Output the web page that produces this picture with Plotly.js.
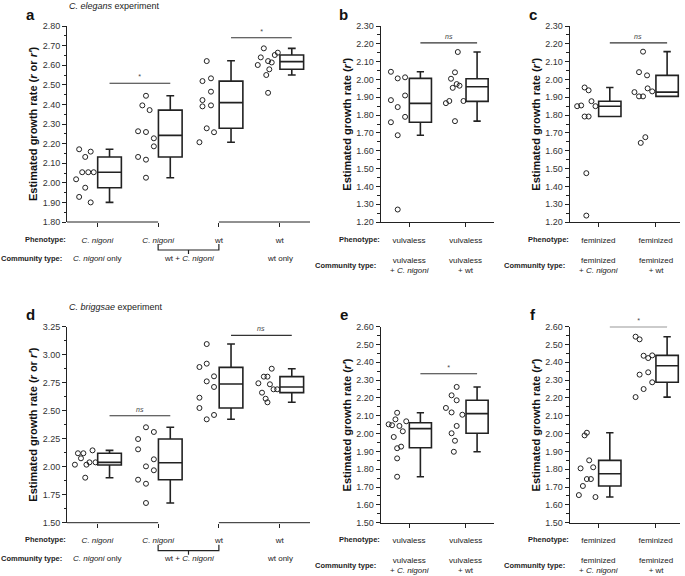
<!DOCTYPE html>
<html>
<head>
<meta charset="utf-8">
<script src="https://cdn.plot.ly/plotly-3.0.1.min.js"></script>
<style>
  html, body { margin: 0; padding: 0; background: #fff; }
  #plot { width: 685px; height: 576px; }
</style>
</head>
<body>
<div id="plot"></div>
<script>
// ---- data ----

// a: C. elegans experiment
const aPheno = ["<i>C. nigoni</i>", "<i>C. nigoni</i>", "wt", "wt"];
const aVals = [
  [2.171, 2.132, 2.159, 2.054, 2.054, 2.054, 2.018, 1.975, 1.928, 1.900],
  [2.444, 2.395, 2.371, 2.263, 2.259, 2.227, 2.186, 2.132, 2.118, 2.026],
  [2.621, 2.519, 2.533, 2.465, 2.422, 2.390, 2.395, 2.278, 2.258, 2.207],
  [2.686, 2.640, 2.652, 2.664, 2.601, 2.621, 2.614, 2.579, 2.550, 2.459]
];
const aOffs = [
  [-0.30, -0.20, -0.11, -0.25, -0.15, -0.06, -0.35, -0.20, -0.30, -0.11],
  [-0.20, -0.26, -0.14, -0.33, -0.20, -0.07, -0.07, -0.33, -0.20, -0.20],
  [-0.20, -0.27, -0.13, -0.13, -0.27, -0.27, -0.13, -0.20, -0.08, -0.32],
  [-0.26, -0.31, -0.08, -0.03, -0.36, -0.19, -0.13, -0.17, -0.22, -0.19]
];
const aQ1 = [1.975, 2.132, 2.278, 2.579];
const aMed = [2.054, 2.242, 2.409, 2.618];
const aQ3 = [2.132, 2.371, 2.519, 2.652];
const aLo = [1.900, 2.026, 2.207, 2.550];
const aHi = [2.171, 2.444, 2.623, 2.686];

// b: vulvaless
const bPheno = ["vulvaless", "vulvaless"];
const bComm = ["vulvaless<br>+ <i>C. nigoni</i>", "vulvaless<br>+ wt"];
const bVals = [
  [2.043, 2.006, 2.012, 1.910, 1.884, 1.845, 1.790, 1.760, 1.687, 1.270],
  [2.154, 2.040, 2.004, 1.974, 1.965, 1.953, 1.879, 1.867, 1.879, 1.766]
];
const bOffs = [
  [-0.32, -0.20, -0.07, -0.07, -0.32, -0.20, -0.07, -0.32, -0.20, -0.20],
  [-0.14, -0.19, -0.26, -0.16, -0.11, -0.23, -0.29, -0.35, -0.04, -0.19]
];
const bQ1 = [1.760, 1.877];
const bMed = [1.866, 1.959];
const bQ3 = [2.006, 2.004];
const bLo = [1.687, 1.766];
const bHi = [2.043, 2.154];

// c: feminized
const cPheno = ["feminized", "feminized"];
const cComm = ["feminized<br>+ <i>C. nigoni</i>", "feminized<br>+ wt"];
const cVals = [
  [1.850, 1.854, 1.955, 1.939, 1.878, 1.850, 1.792, 1.792, 1.474, 1.236],
  [2.156, 2.041, 2.023, 1.950, 1.933, 1.929, 1.905, 1.905, 1.676, 1.644]
];
const cOffs = [
  [-0.37, -0.30, -0.24, -0.17, -0.12, -0.05, -0.24, -0.17, -0.21, -0.21],
  [-0.22, -0.29, -0.15, -0.14, -0.06, -0.37, -0.29, -0.22, -0.18, -0.26]
];
const cQ1 = [1.792, 1.905];
const cMed = [1.850, 1.929];
const cQ3 = [1.878, 2.023];
const cLo = [1.792, 1.905];
const cHi = [1.955, 2.156];

// d: C. briggsae experiment
const dVals = [
  [2.018, 2.120, 2.075, 2.120, 2.018, 2.039, 2.146, 2.039, 1.902],
  [2.352, 2.310, 2.247, 2.155, 2.066, 2.003, 1.968, 1.884, 1.848, 1.676],
  [3.095, 2.920, 2.890, 2.807, 2.762, 2.712, 2.616, 2.524, 2.462, 2.423],
  [2.875, 2.804, 2.804, 2.745, 2.736, 2.661, 2.691, 2.691, 2.607, 2.575]
];
const dOffs = [
  [-0.37, -0.32, -0.27, -0.23, -0.18, -0.13, -0.08, -0.03, -0.20],
  [-0.20, -0.07, -0.33, -0.33, -0.07, -0.20, -0.07, -0.33, -0.20, -0.20],
  [-0.20, -0.20, -0.32, -0.08, -0.20, -0.08, -0.32, -0.32, -0.08, -0.20],
  [-0.13, -0.26, -0.20, -0.35, -0.16, -0.29, -0.10, -0.04, -0.23, -0.20]
];
const dQ1 = [2.015, 1.884, 2.524, 2.661];
const dMed = [2.039, 2.035, 2.738, 2.712];
const dQ3 = [2.120, 2.247, 2.887, 2.804];
const dLo = [1.902, 1.676, 2.423, 2.575];
const dHi = [2.146, 2.352, 3.095, 2.875];

// e: vulvaless
const eVals = [
  [2.117, 2.080, 2.052, 2.047, 2.043, 2.069, 2.013, 1.981, 1.927, 1.918, 1.861, 1.758],
  [2.262, 2.215, 2.187, 2.144, 2.119, 2.106, 2.043, 2.002, 1.960, 1.898]
];
const eOffs = [
  [-0.21, -0.24, -0.36, -0.30, -0.17, -0.05, -0.11, -0.27, -0.14, -0.21, -0.21, -0.21],
  [-0.16, -0.25, -0.16, -0.35, -0.25, -0.06, -0.16, -0.25, -0.19, -0.21]
];
const eQ1 = [1.921, 2.002];
const eMed = [2.028, 2.112];
const eQ3 = [2.061, 2.187];
const eLo = [1.758, 1.898];
const eHi = [2.117, 2.262];

// f: feminized
const fVals = [
  [2.005, 1.990, 1.850, 1.805, 1.811, 1.745, 1.745, 1.706, 1.655, 1.644],
  [2.544, 2.529, 2.437, 2.424, 2.439, 2.344, 2.331, 2.288, 2.250, 2.205]
];
const fOffs = [
  [-0.20, -0.24, -0.16, -0.31, -0.09, -0.20, -0.13, -0.27, -0.34, -0.05],
  [-0.35, -0.28, -0.21, -0.13, -0.06, -0.13, -0.28, -0.06, -0.21, -0.35]
];
const fQ1 = [1.706, 2.288];
const fMed = [1.775, 2.381];
const fQ3 = [1.850, 2.439];
const fLo = [1.644, 2.205];
const fHi = [2.005, 2.544];

// community labels for the 4-group panels
const abComm = ["<i>C. nigoni</i> only", "wt + <i>C. nigoni</i>", "wt only"];
const abCommX = [0, 1.5, 3];

// significance bars: [from, to, height, label]
const aSig = [[0.2, 1.2, 2.508, "*"], [2.2, 3.2, 2.740, "*"]];
const bSig = [[0.2, 1.2, 2.205, "ns"]];
const cSig = [[0.2, 1.2, 2.205, "ns"]];
const dSig = [[0.2, 1.2, 2.455, "ns"], [2.2, 3.2, 3.173, "ns"]];
const eSig = [[0.2, 1.2, 2.336, "*"]];
const fSig = [[0.2, 1.2, 2.600, "*"]];

// ---- layout geometry (pixels) ----
const W = 685, H = 576;
const FONT = "Liberation Sans, Arial, sans-serif";
const INK = "#222";
const BOX_SHIFT = 0.2;

function px(x) { return x / W; }
function py(y) { return 1 - y / H; }

const colA = [67, 310], colB = [380.7, 494.1], colC = [569.7, 680];
const rowTop = [26, 222], rowBot = [326.7, 522.7];

const panels = [
  { letter: "a", n: "", col: colA, row: rowTop, xr: [-0.5, 3.5], yr: [1.8, 2.8], dt: 0.1,
    vals: aVals, offs: aOffs, q1: aQ1, med: aMed, q3: aQ3, lo: aLo, hi: aHi,
    pheno: aPheno, sig: aSig, title: "<i>C. elegans</i> experiment",
    ytitle: "Estimated growth rate (<i>r</i> or <i>r'</i>)" },
  { letter: "b", n: "2", col: colB, row: rowTop, xr: [-0.5, 1.5], yr: [1.2, 2.3], dt: 0.1,
    vals: bVals, offs: bOffs, q1: bQ1, med: bMed, q3: bQ3, lo: bLo, hi: bHi,
    pheno: bPheno, comm: bComm, sig: bSig, ytitle: "Estimated growth rate (<i>r'</i>)" },
  { letter: "c", n: "3", col: colC, row: rowTop, xr: [-0.5, 1.425], yr: [1.2, 2.3], dt: 0.1,
    vals: cVals, offs: cOffs, q1: cQ1, med: cMed, q3: cQ3, lo: cLo, hi: cHi,
    pheno: cPheno, comm: cComm, sig: cSig, ytitle: "Estimated growth rate (<i>r'</i>)" },
  { letter: "d", n: "4", col: colA, row: rowBot, xr: [-0.5, 3.5], yr: [1.5, 3.25], dt: 0.25,
    vals: dVals, offs: dOffs, q1: dQ1, med: dMed, q3: dQ3, lo: dLo, hi: dHi,
    pheno: aPheno, sig: dSig, title: "<i>C. briggsae</i> experiment",
    ytitle: "Estimated growth rate (<i>r</i> or <i>r'</i>)" },
  { letter: "e", n: "5", col: colB, row: rowBot, xr: [-0.5, 1.5], yr: [1.5, 2.6], dt: 0.1,
    vals: eVals, offs: eOffs, q1: eQ1, med: eMed, q3: eQ3, lo: eLo, hi: eHi,
    pheno: bPheno, comm: bComm, sig: eSig, ytitle: "Estimated growth rate (<i>r'</i>)" },
  { letter: "f", n: "6", col: colC, row: rowBot, xr: [-0.5, 1.425], yr: [1.5, 2.6], dt: 0.1,
    vals: fVals, offs: fOffs, q1: fQ1, med: fMed, q3: fQ3, lo: fLo, hi: fHi,
    pheno: cPheno, comm: cComm, sig: fSig, ytitle: "Estimated growth rate (<i>r'</i>)" }
];

const traces = [];
const annotations = [];
const shapes = [];
const layout = {
  width: W, height: H,
  margin: { l: 0, r: 0, t: 0, b: 0 },
  paper_bgcolor: "#fff", plot_bgcolor: "rgba(0,0,0,0)",
  showlegend: false,
  font: { family: FONT, color: INK, size: 8 },
  hovermode: false
};

// paper-anchored text helper
function note(x, y, text, opts) {
  annotations.push(Object.assign({ xref: "paper", yref: "paper", x: px(x), y: py(y), text: text,
    showarrow: false, xanchor: "center", yanchor: "middle", font: { size: 8 } }, opts || {}));
}

panels.forEach(function (p) {
  const xa = "x" + p.n, ya = "y" + p.n;
  const fourGroups = p.vals.length === 4;

  // points
  p.vals.forEach(function (vals, g) {
    traces.push({
      type: "scatter", mode: "markers", xaxis: xa, yaxis: ya,
      x: vals.map((v, i) => g + p.offs[g][i]),
      y: vals,
      marker: { symbol: "circle-open", size: 5, color: INK, line: { width: 1, color: INK } }
    });
  });

  // boxes from the read-off quartiles
  traces.push({
    type: "box", xaxis: xa, yaxis: ya,
    x: p.q1.map((_, g) => g + BOX_SHIFT),
    q1: p.q1, median: p.med, q3: p.q3, lowerfence: p.lo, upperfence: p.hi,
    width: 0.39, whiskerwidth: 0.33, boxpoints: false,
    line: { color: INK, width: 1.6 }, fillcolor: "rgba(0,0,0,0)"
  });

  // significance bars
  p.sig.forEach(function (s) {
    traces.push({
      type: "scatter", mode: "lines", xaxis: xa, yaxis: ya,
      x: [s[0], s[1]], y: [s[2], s[2]],
      line: { color: "#333", width: 1.2 }
    });
    annotations.push({
      xref: xa, yref: ya, x: (s[0] + s[1]) / 2, y: s[2], xanchor: "center", yanchor: "bottom", yshift: 1,
      text: "<i>" + s[3] + "</i>", showarrow: false, font: { size: 7, color: "#444" }
    });
  });

  const tickvals = p.pheno.map((_, i) => i);
  layout["xaxis" + p.n] = {
    domain: [px(p.col[0]), px(p.col[1])], range: p.xr, anchor: ya,
    showline: !fourGroups, linecolor: INK, linewidth: 1,
    showgrid: false, zeroline: false,
    ticks: "outside", ticklen: 4, tickwidth: 1, tickcolor: INK,
    tickvals: tickvals, ticktext: p.pheno, ticklabelstandoff: 6,
    tickfont: { size: 8, color: INK, family: FONT }
  };
  layout["yaxis" + p.n] = {
    domain: [py(p.row[1]), py(p.row[0])], range: p.yr, anchor: xa,
    showline: true, linecolor: INK, linewidth: 1,
    showgrid: false, zeroline: false,
    ticks: "outside", ticklen: 4, tickwidth: 1, tickcolor: INK,
    dtick: p.dt, tick0: p.yr[0], tickformat: ".2f",
    minor: { ticks: "outside", ticklen: 2.5, dtick: p.dt / 2, tickcolor: INK, tickwidth: 1 },
    tickfont: { size: 9, color: "#333", family: FONT }
  };

  const axB = p.row[1];
  const commY = axB + (fourGroups ? 36 : 43);

  // broken x axis and bracket for the 4-group panels
  if (fourGroups) {
    [[-0.5, 1], [2, 3.5]].forEach(function (seg) {
      shapes.push({ type: "line", xref: xa, yref: ya + " domain", x0: seg[0], x1: seg[1], y0: 0, y1: 0,
        line: { color: INK, width: 1 } });
    });
    shapes.push({ type: "path", xref: xa, yref: "paper",
      path: "M1," + py(axB + 22) + " L1," + py(axB + 28) + " L2," + py(axB + 28) + " L2," + py(axB + 22),
      line: { color: INK, width: 1.2 } });
    shapes.push({ type: "line", xref: xa, yref: "paper", x0: 1.5, x1: 1.5, y0: py(axB + 28), y1: py(axB + 32),
      line: { color: INK, width: 1.2 } });
    abComm.forEach(function (t, i) {
      annotations.push({ xref: xa, yref: "paper", x: abCommX[i], y: py(commY), xanchor: "center", yanchor: "middle",
        text: t, showarrow: false, font: { size: 8 } });
    });
  } else {
    p.comm.forEach(function (t, i) {
      annotations.push({ xref: xa, yref: "paper", x: i, y: py(commY), xanchor: "center", yanchor: "middle",
        text: t, showarrow: false, font: { size: 8 } });
    });
  }

  // row headers
  note(p.col[0] + 1, axB + 17, "<b>Phenotype:</b>", { xanchor: "right", font: { size: 7.5 } });
  note(p.col[0] - 3, commY, "<b>Community type:</b>", { xanchor: "right", font: { size: 7.5 } });

  // panel letter, y title, experiment title
  note(p.col[0] - 37, p.row[0] - 12, "<b>" + p.letter + "</b>", { font: { size: 15, color: "#111" } });
  note(p.col[0] - 34, (p.row[0] + p.row[1]) / 2, "<b>" + p.ytitle + "</b>",
    { textangle: -90, font: { size: 11, color: "#111" } });
  if (p.title) {
    note(p.col[0], p.row[0] - 20, p.title, { xanchor: "left", font: { size: 9 } });
  }
});

layout.annotations = annotations;
layout.shapes = shapes;

Plotly.newPlot("plot", traces, layout, { staticPlot: true, displayModeBar: false });
</script>
</body>
</html>
